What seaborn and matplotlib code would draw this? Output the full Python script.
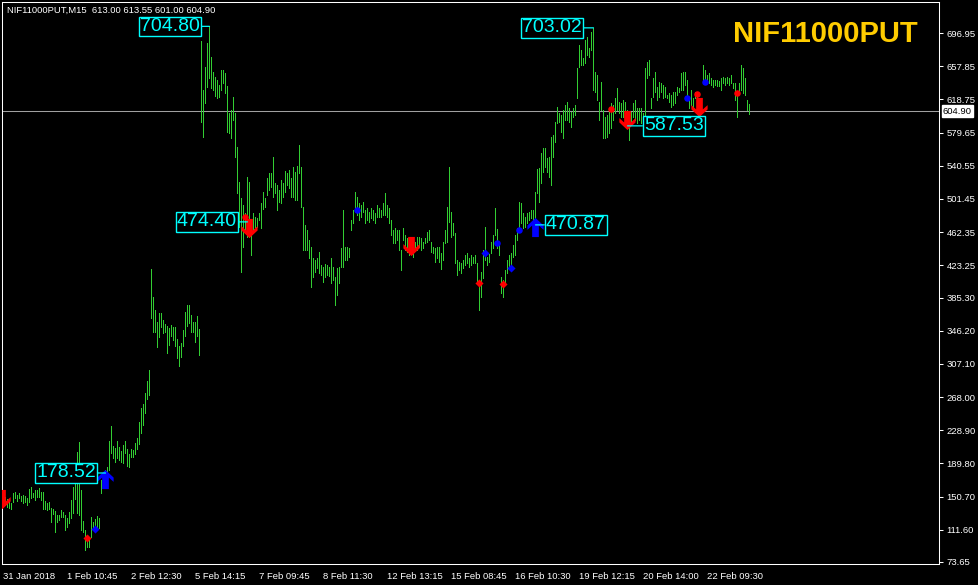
import matplotlib
matplotlib.use("Agg")
import numpy as np
import pandas as pd
import matplotlib.pyplot as plt
import matplotlib.transforms as mtransforms
from matplotlib.path import Path
from matplotlib import font_manager
import seaborn as sns

# ---- data (M15 bars, high / low per bar) ----
symbol = "NIF11000PUT"
header = "NIF11000PUT,M15  613.00 613.55 601.00 604.90"
last_price = 604.90

high = [
    153, 150, 148, 147, 143, 155, 156, 153, 155, 151,
    153, 151, 149, 160, 162, 155, 159, 159, 161, 156,
    156, 146, 143, 144, 137, 136, 134, 129, 129, 135,
    133, 129, 126, 133, 147, 162, 168, 203, 215, 159,
    122, 111, 106, 103, 127, 121, 124, 128, 126, 170,
    180, 182, 186, 216, 234, 210, 208, 216, 209, 205,
    212, 216, 207, 201, 207, 206, 214, 220, 239, 255,
    260, 273, 287, 300, 419, 386, 371, 357, 367, 367,
    359, 354, 352, 349, 353, 351, 351, 336, 328, 332,
    347, 368, 376, 376, 365, 357, 357, 364, 348, 687,
    630, 657, 685, 704.8, 669, 651, 645, 642, 636, 653,
    653, 650, 634, 603, 606, 622, 603, 563, 521, 503,
    494, 485, 527, 521, 468, 485, 480, 479, 485, 497,
    510, 503, 526, 532, 532, 551, 520, 518, 512, 524,
    520, 534, 532, 535, 526, 539, 533, 540, 565, 539,
    492, 471, 465, 453, 445, 432, 430, 432, 439, 424,
    421, 425, 424, 421, 432, 421, 409, 420, 421, 444,
    488, 445, 445, 444, 477, 488, 510, 504, 497, 494,
    498, 488, 491, 486, 491, 488, 485, 494, 491, 488,
    497, 508, 494, 491, 477, 465, 467, 465, 465, 441,
    467, 459, 455, 453, 455, 449, 451, 457, 457, 455,
    451, 455, 462, 465, 451, 445, 444, 445, 445, 438,
    451, 465, 492, 539, 486, 473, 461, 430, 427, 426,
    430, 435, 438, 432, 435, 433, 435, 426, 406, 415,
    441, 468, 433, 437, 451, 459, 491, 466, 448, 409,
    406, 418, 430, 435, 438, 447, 459, 467, 498, 497,
    485, 480, 485, 486, 488, 488, 510, 537, 538, 556,
    561, 561, 550, 551, 574, 577, 592, 610, 603, 600,
    606, 612, 616, 609, 604, 609, 612, 656, 683, 677,
    667, 689, 692, 679, 698, 703.02, 651, 647, 616, 639,
    606, 598, 600, 609, 614, 612, 620, 632, 616, 614,
    618, 616, 606, 594, 604, 614, 618, 609, 609, 609,
    603, 656, 663, 665, 620, 644, 651, 633, 639, 638,
    636, 633, 624, 626, 624, 627, 627, 633, 632, 650,
    651, 651, 642, 621, 630, 620, 627, 624, 620, 618,
    659, 653, 647, 650, 644, 642, 642, 642, 640, 644,
    645, 644, 645, 644, 647, 638, 638, 626, 638, 659,
    656, 644, 618, 613.55,
]
low = [
    143, 141, 139, 137, 136, 144, 149, 146, 149, 146,
    143, 144, 141, 144, 149, 150, 147, 150, 150, 147,
    136, 136, 135, 136, 121, 130, 109, 121, 123, 127,
    127, 111, 115, 120, 126, 131, 148, 131, 129, 111,
    109, 88, 91, 91, 103, 114, 115, 115, 114, 155,
    164, 170, 170, 182, 202, 196, 192, 196, 194, 192,
    190, 202, 187, 186, 197, 197, 201, 207, 213, 226,
    235, 249, 266, 270, 361, 345, 345, 327, 339, 351,
    343, 345, 320, 329, 340, 335, 328, 314, 305, 315,
    328, 340, 352, 355, 345, 345, 333, 340, 318, 592,
    574, 614, 633, 644, 632, 630, 623, 620, 621, 630,
    638, 626, 580, 579, 573, 594, 551, 508, 468, 415,
    445, 461, 457, 457, 435, 461, 468, 468, 477, 467,
    490, 492, 506, 512, 515, 504, 508, 488, 498, 497,
    504, 510, 518, 514, 504, 504, 500, 500, 532, 492,
    441, 441, 441, 432, 398, 409, 415, 420, 414, 412,
    404, 410, 412, 411, 402, 406, 376, 388, 402, 421,
    421, 430, 430, 433, 465, 473, 488, 482, 477, 480,
    486, 473, 477, 474, 479, 477, 473, 480, 480, 480,
    482, 482, 480, 473, 459, 450, 450, 453, 441, 418,
    453, 441, 439, 435, 441, 433, 441, 441, 445, 441,
    444, 450, 451, 453, 439, 438, 427, 432, 427, 419,
    430, 450, 451, 474, 457, 459, 426, 412, 418, 414,
    420, 424, 426, 421, 424, 426, 426, 402, 371, 386,
    408, 429, 424, 427, 438, 444, 459, 444, 435, 391,
    386, 400, 414, 420, 421, 433, 435, 453, 468, 473,
    467, 468, 473, 477, 479, 474, 479, 508, 498, 520,
    533, 539, 533, 527, 518, 551, 568, 591, 592, 580,
    573, 594, 594, 592, 586, 598, 600, 620, 657, 659,
    659, 662, 671, 669, 677, 630, 627, 618, 594, 606,
    573, 573, 574, 579, 585, 594, 603, 606, 603, 598,
    598, 604, 589, 571, 591, 598, 594, 591, 594, 591,
    583, 598, 644, 647, 609, 621, 627, 618, 621, 627,
    620, 621, 620, 616, 610, 612, 614, 624, 627, 630,
    630, 636, 620, 609, 612, 606, 620, 609, 606, 604,
    642, 638, 638, 638, 636, 633, 636, 635, 635, 630,
    638, 636, 638, 636, 638, 632, 618, 598, 627, 630,
    626, 624, 606, 601,
]

date_labels = ["31 Jan 2018", "1 Feb 10:45", "2 Feb 12:30", "5 Feb 14:15",
               "7 Feb 09:45", "8 Feb 11:30", "12 Feb 13:15", "15 Feb 08:45",
               "16 Feb 10:30", "19 Feb 12:15", "20 Feb 14:00", "22 Feb 09:30"]
date_bars = [0, 32, 64, 96, 128, 160, 192, 224, 256, 288, 320, 352]

price_ticks = [696.95, 657.85, 618.75, 579.65, 540.55, 501.45, 462.35, 423.25,
               385.30, 346.20, 307.10, 268.00, 228.90, 189.80, 150.70, 111.60, 73.65]

# indicator signals (bar index, price)
sell_bar = [-1, 123, 204, 312, 348]
sell_val = [148, 467, 446, 594, 610]
buy_bar = [51, 266]
buy_val = [171, 468]
red_dia_bar = [42, 238, 250]
red_dia_val = [102, 402, 401]
blue_dia_bar = [46, 241, 254]
blue_dia_val = [113, 438, 420]
blue_dot_bar = [177, 247, 258, 342, 351]
blue_dot_val = [488, 450, 465, 620, 639]
red_dot_bar = [121, 304, 347, 367]
red_dot_val = [480, 607, 625, 626]

note_bar = [51, 103, 122, 266, 295, 312]
note_val = [178.52, 704.80, 474.40, 470.87, 703.02, 587.53]

# ---- style ----
sns.set_style("dark", {"axes.facecolor": "black", "figure.facecolor": "black"})
plt.rcParams["font.family"] = ["Liberation Sans", "DejaVu Sans"]

names = {f.name for f in font_manager.fontManager.ttflist}
if "Liberation Sans Narrow" in names:
    note_font, note_size = "Liberation Sans Narrow", 17
else:
    note_font, note_size = "Liberation Sans", 14

W, H = 979, 585
fig = plt.figure(figsize=(W / 100, H / 100), dpi=100, facecolor="black")
ax = fig.add_axes([2 / W, 21 / H, 937 / W, 562 / H])
ax.set_facecolor("black")

df = pd.DataFrame({"bar": np.arange(len(high)), "high": high, "low": low})
ax.vlines(df["bar"], df["low"], df["high"], colors="#32cd32", lw=0.5,
          antialiased=False, zorder=2)

ax.axhline(last_price, color="#a0a0a0", lw=0.75, zorder=1)

# arrow markers
down_arrow = Path([(-0.35, 1), (0.35, 1), (0.35, -0.2), (0.85, 0.25), (0.85, -0.2),
                   (0, -1), (-0.85, -0.2), (-0.85, 0.25), (-0.35, -0.2), (-0.35, 1)],
                  closed=True)
up_arrow = Path([(x, -y) for x, y in down_arrow.vertices], closed=True)

sns.scatterplot(x=sell_bar, y=sell_val, marker=down_arrow, s=190, color="#ff0000",
                linewidth=0, ax=ax, zorder=4)
sns.scatterplot(x=buy_bar, y=buy_val, marker=up_arrow, s=190, color="#0000ff",
                linewidth=0, ax=ax, zorder=4)
sns.scatterplot(x=red_dia_bar, y=red_dia_val, marker="D", s=17, color="#ff0000",
                linewidth=0, ax=ax, zorder=4)
sns.scatterplot(x=blue_dia_bar, y=blue_dia_val, marker="D", s=17, color="#0000ff",
                linewidth=0, ax=ax, zorder=4)
sns.scatterplot(x=blue_dot_bar, y=blue_dot_val, marker="o", s=22, color="#0000ff",
                linewidth=0, ax=ax, zorder=4)
sns.scatterplot(x=red_dot_bar, y=red_dot_val, marker="o", s=22, color="#ff0000",
                linewidth=0, ax=ax, zorder=4)

# boxed price notes
note_dx = [-9.5, -9.5, -10.5, 10.5, -11.5, 16.5]
for b, v, dx in zip(note_bar, note_val, note_dx):
    ax.annotate(f"{v:.2f}", xy=(b, v), xytext=(dx, 0), textcoords="offset pixels",
                ha="right" if dx < 0 else "left", va="center", color="#00ffff",
                family=note_font, fontsize=note_size, zorder=5,
                bbox=dict(boxstyle="square,pad=0.06", fc="black", ec="#00ffff", lw=1),
                arrowprops=dict(arrowstyle="-", color="#00ffff", lw=0.9,
                                shrinkA=0, shrinkB=0))

ax.set_xlim(-0.75, 467.75)
ax.set_ylim(71.29, 733.48)

ax.yaxis.tick_right()
ax.set_yticks(price_ticks, [f"{v:.2f}" for v in price_ticks])
ax.set_xticks(date_bars, date_labels, ha="left")
ax.tick_params(axis="both", colors="white", labelcolor="white", labelsize=6.8,
               length=3, width=0.75, direction="out")
ax.tick_params(axis="y", pad=2.5)
ax.tick_params(axis="x", pad=2, length=4)
ax.grid(False)
for sp in ax.spines.values():
    sp.set_visible(True)
    sp.set_color("white")
    sp.set_linewidth(0.75)

trans = mtransforms.blended_transform_factory(ax.transAxes, ax.transData)
ax.text(1.004, last_price, f"{last_price:.2f}", transform=trans, ha="left", va="center",
        fontsize=6.8, color="black",
        bbox=dict(boxstyle="square,pad=0.12", fc="white", ec="white"))

fig.text(7 / W, 1 - 10 / H, header, ha="left", va="center", color="white", fontsize=6.8)
fig.text(918 / W, 1 - 34 / H, symbol, ha="right", va="center", color="#ffcc00",
         fontsize=21, fontweight="bold")

fig.savefig("out.png", dpi=100, facecolor="black")
